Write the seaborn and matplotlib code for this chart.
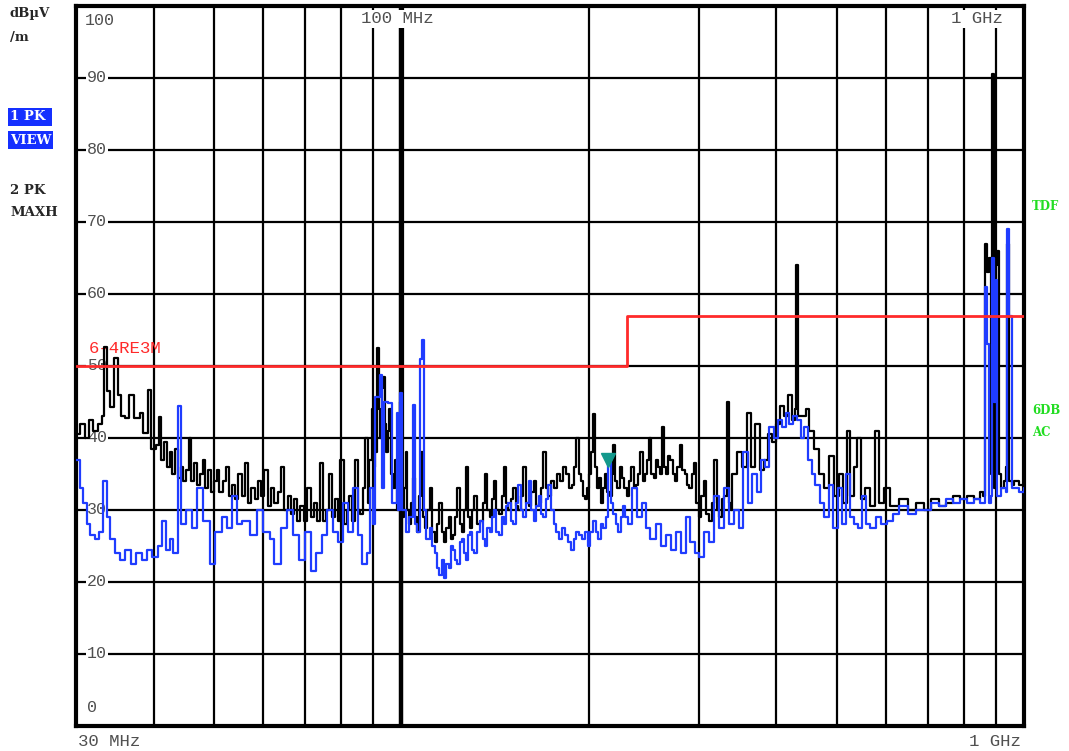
import matplotlib
matplotlib.use("Agg")
import matplotlib.pyplot as plt
import matplotlib.transforms as mtransforms
import pandas as pd
import seaborn as sns

# ---------------- data: (frequency MHz, level dBuV/m) ----------------
pk_maxh_low = [
    (30.0, 40.5), (30.5, 42.0), (31.0, 40.0), (31.5, 42.5), (32.0, 41.0), (32.5, 42.0), (33.0, 43.0),
    (33.3, 52.6), (33.7, 46.5), (34.0, 44.3), (34.5, 51.1), (35.0, 46.0), (35.4, 43.0), (36.0, 42.8),
    (36.5, 46.0), (37.2, 42.8), (38.0, 43.5), (38.5, 40.7), (39.2, 46.7), (39.6, 38.5),
    (40.3, 39), (40.8, 42.9), (41.1, 37), (41.5, 39.5), (42.0, 36), (42.4, 38), (42.8, 35), (43.3, 38.5),
    (43.7, 34.5), (44.2, 36), (44.6, 34), (45.0, 35.5), (45.5, 40), (45.9, 34), (46.4, 36.5), (46.9, 33.5),
    (47.4, 35), (47.9, 37), (48.4, 33), (48.9, 35.5), (49.4, 32.5), (50.0, 34), (50.5, 35.5), (51.0, 32.5),
    (51.6, 34), (52.2, 36), (52.8, 32), (53.4, 33.5), (54.0, 31.5), (54.7, 35), (55.4, 32), (56.0, 36.5),
    (56.7, 31), (57.4, 33), (58.1, 31.5), (58.8, 34), (59.5, 32), (60.2, 35.5), (61.0, 30.5), (61.8, 33),
    (62.5, 31), (63.3, 32.5), (64.0, 36), (64.8, 30), (65.6, 32), (66.4, 29.5), (67.2, 31.5), (68.0, 28.5),
    (68.8, 30.5), (69.7, 28.5), (70.6, 33), (71.5, 29), (72.3, 31), (73.2, 28.5), (74.0, 36.5), (74.8, 28.5),
    (75.6, 30), (76.5, 35), (77.4, 29), (78.2, 31.5), (79.0, 28.5), (79.8, 37), (80.7, 28), (81.6, 30),
    (82.5, 32), (83.3, 28.5), (84.2, 37), (85.0, 30), (85.9, 29.5), (86.7, 33), (87.5, 40), (88.2, 31),
    (88.8, 37), (89.5, 44), (90.2, 36), (90.8, 38), (91.5, 52.5), (92.0, 44), (92.5, 40), (93.0, 47),
    (93.5, 48.5), (94.0, 42), (94.5, 38), (95.0, 41), (95.5, 44), (96.2, 35), (97.0, 33), (97.8, 37),
    (98.5, 30), (99.0, 38), (99.5, 45), (100.0, 101),
]
pk_maxh_mid = [
    (100.5, 29), (101.0, 33), (101.5, 38), (102.2, 30), (103, 28), (103.7, 31), (104.5, 34.5), (105.2, 29),
    (106, 27), (106.7, 32), (107.5, 38), (108.2, 29), (109, 27.5), (110, 30), (111, 33), (112, 27),
    (113, 25.5), (114, 28), (115, 31), (116, 27), (117, 25.5), (118, 27.5), (119, 29), (120, 26),
    (121, 26.5), (122, 29), (123, 33), (124, 28), (125, 27), (126, 30), (127, 36), (128, 29),
    (129, 27.5), (130, 30), (131, 32), (132, 28), (133.5, 28.5), (135, 31), (136, 35), (137, 30),
    (138.5, 29), (140, 31.5), (141, 34), (142, 30), (143.5, 29.5), (145, 32), (146, 36), (147, 31),
    (148.5, 30), (150, 31.5), (151, 33), (152.5, 30.5), (154, 30), (155.5, 32), (157, 36), (158.5, 31),
    (160, 30.5), (161.5, 32.5), (163, 34), (164.5, 30.5), (166, 31), (167.5, 33), (169, 38), (170.5, 33),
    (172, 32), (174, 34), (176, 33), (178, 35), (180, 34), (182, 36), (184, 35), (186, 33),
    (188, 33.5), (189.5, 36), (191, 40), (192.5, 35), (194, 34), (195.5, 32), (197, 31.5), (198.5, 33),
    (200, 35), (201.5, 38), (203, 43.3), (204.5, 36), (206, 33), (207.5, 34.5), (209, 31), (210.5, 33),
    (212, 35), (214, 32.5), (216, 32), (217.5, 35), (219, 39), (220.5, 34), (222, 33), (224, 36),
    (226, 34.5), (228, 33), (230, 32), (232, 34), (234, 36), (236, 33), (238, 33.5), (240, 35),
    (242, 38), (244, 34), (246, 35), (248, 37), (250, 40), (252, 35), (254, 34.5), (256, 37),
    (258, 36), (260, 35), (262, 41.5), (264, 36), (266, 35), (268, 37.5), (270, 37), (272.5, 35),
    (275, 34), (277.5, 36), (280, 39), (282.5, 35.5), (285, 35), (287.5, 33.5), (290, 33), (292.5, 35),
    (295, 36.5), (297.5, 31), (300, 29), (303, 32), (306, 34), (309, 29.5), (312, 28.5), (315, 31),
    (318, 37), (321, 30), (324, 29), (327, 31.5), (330, 32), (333, 45), (336, 31), (338, 30),
]
pk_maxh_high = [
    (340, 35), (346, 38), (352, 36), (359, 43.5), (364, 36), (370, 42), (376, 35.5), (382, 37),
    (388, 40.5), (394, 39.5), (400, 42), (406, 44.5), (412, 43), (418, 46), (424, 42.5), (428, 44),
    (431, 64), (434, 43), (440, 43), (446, 44), (452, 41), (460, 38.5), (469, 35), (478, 33),
    (487, 37.5), (496, 32), (505, 35), (512, 31), (520, 41), (526, 32), (533, 36), (540, 40),
    (548, 31.5), (556, 33), (565, 30.5), (577, 41), (585, 31), (595, 33), (610, 30.5), (630, 31.5),
    (650, 30), (670, 31), (690, 30), (710, 31.5), (730, 30.5), (750, 31), (770, 32), (790, 31.5),
    (810, 32), (830, 31.5), (850, 32.5), (860, 32), (866, 67), (872, 63), (878, 65), (884, 35),
    (889, 90.5), (894, 33), (900, 64), (906, 66), (913, 35), (920, 33), (928, 34), (934, 36),
    (940, 67), (946, 34), (955, 33.5), (965, 34), (980, 33.5), (1000, 33.5),
]

pk_view_low = [
    (30.0, 37.0), (30.4, 33.0), (30.8, 31.0), (31.2, 28.0), (31.6, 26.5), (32.2, 26.0), (32.7, 27.0),
    (33.1, 34.0), (33.6, 29.0), (34.0, 26.0), (34.6, 24.0), (35.3, 23.0), (36.0, 24.5), (36.8, 22.5),
    (37.5, 24.0), (38.3, 23.0), (39.0, 24.5), (39.8, 23.5), (40.6, 25.0), (41.3, 28.5), (41.9, 24.5),
    (42.5, 26.0), (43.0, 24.0), (43.7, 44.5), (44.2, 28.0), (45.0, 30.0), (46.0, 27.5), (47.0, 33.0),
    (48.0, 28.5), (49.2, 22.5), (50.2, 27.0), (51.5, 29.0), (52.5, 27.5), (53.5, 32.0), (54.5, 28.0),
    (55.5, 28.5), (57.0, 26.5), (58.5, 30.0), (60.0, 27.0), (61.5, 26.0), (62.5, 22.5), (64.0, 27.5),
    (65.5, 30.0), (67.0, 26.5), (68.5, 23.0), (70.0, 27.0), (71.5, 21.5), (73.0, 24.0), (74.5, 26.5),
    (76.0, 30.0), (77.5, 27.0), (79.0, 25.5), (80.5, 31.0), (82.0, 27.0), (83.5, 33.0), (85.0, 26.5),
    (86.5, 22.5), (88.0, 24.0), (89.0, 33.0), (90.0, 28.0), (90.6, 45.7), (92.3, 48.7), (93.0, 33.0),
    (93.8, 45.0), (95.1, 44.9), (96.5, 31.0), (98.2, 43.5), (98.8, 30.0), (99.3, 46.2), (100.2, 30.0),
    (101.5, 27.0), (103, 29.0), (104.2, 44.6), (105, 28.0), (106, 27.0), (107, 51.0), (107.8, 53.6),
    (108.5, 30.0), (109.5, 26.0),
]
pk_view_mid = [
    (111, 27.5), (112, 25), (113, 24), (114, 22), (115, 21), (116, 23), (117, 20.5), (118, 22.5),
    (119, 22), (120, 25), (121, 24.5), (122, 23), (123, 22.5), (124, 25.5), (125, 26), (126, 24),
    (127, 23), (128, 26.5), (129, 27), (130, 24.5), (131, 24), (132, 27), (133.5, 28.5), (135, 26),
    (136, 25), (137, 27.5), (138.5, 27), (140, 29), (141, 30), (142, 27), (143.5, 26.5), (145, 29),
    (146, 28), (147, 30.5), (148.5, 31), (150, 28.5), (151, 28), (152.5, 31), (154, 33.5), (155.5, 30),
    (157, 29), (158.5, 31), (160, 34), (161.5, 30), (163, 28.5), (164.5, 30.5), (166, 32), (167.5, 29.5),
    (169, 29), (170.5, 31.5), (172, 33.5), (174, 30), (175.5, 28), (177, 27), (179, 26), (181, 27.5),
    (183, 26.5), (185, 25.5), (187, 24.5), (189, 26), (191, 27), (193, 26.5), (195, 26), (197, 27),
    (199, 25), (201, 27), (203, 28.5), (205, 27), (207, 26), (209, 28), (211, 27.5), (213, 29),
    (215, 36.5), (217, 31), (219, 29.5), (221, 28), (223, 27), (225, 29), (227, 30.5), (229, 29),
    (231, 28), (235, 33), (239, 29), (243, 31), (247, 27.5), (251, 26), (256, 28), (261, 25),
    (266, 26.5), (271, 24.5), (276, 27), (281, 24), (286, 29), (291, 25.5), (296, 24), (300, 23.5),
    (306, 27), (312, 25.5), (318, 32), (324, 27.5), (330, 33), (336, 28),
]
pk_view_high = [
    (342, 30), (348, 27.5), (354, 38), (360, 31), (366, 35), (372, 32.5), (378, 37), (384, 36),
    (390, 41.5), (396, 40), (402, 42.5), (408, 41.5), (414, 43.5), (420, 42), (426, 43), (432, 42.5),
    (438, 40), (444, 41.5), (450, 37), (456, 35), (462, 33.5), (470, 31), (478, 29), (486, 33.5),
    (494, 27.5), (502, 33), (510, 28), (518, 35), (526, 29), (534, 28), (542, 27.5), (550, 32),
    (558, 28), (566, 27.5), (578, 29), (590, 28), (602, 28.5), (615, 29.5), (630, 30.5), (650, 29.5),
    (670, 30), (690, 30), (710, 31), (730, 30.5), (750, 31.5), (770, 31), (790, 31.5), (810, 31),
    (830, 31.5), (850, 31), (862, 31), (866, 61), (872, 53), (878, 31), (884, 32), (889, 65),
    (894, 45), (900, 62), (906, 32), (913, 32), (920, 33), (928, 33), (934, 32.5), (940, 69),
    (946, 57), (955, 33), (965, 33), (980, 32.5), (1000, 33),
]

limit_freq = [30, 230, 230, 1000]
limit_level = [50, 50, 57, 57]
limit_name = "6-4RE3M"

marker_freq = [215]
marker_level = [37]

y_tick_values = [10, 20, 30, 40, 50, 60, 70, 80, 90]
x_grid_freqs = [40, 50, 60, 70, 80, 90, 100, 200, 300, 400, 500, 600, 700, 800, 900]


def to_frame(*segments):
    pts = [p for seg in segments for p in seg]
    return pd.DataFrame({"freq": [p[0] for p in pts], "level": [p[1] for p in pts]})


# ---------------- figure ----------------
sns.set_style("white")
W, H = 1069, 751
fig = plt.figure(figsize=(W / 100, H / 100), dpi=100)
ax = fig.add_axes([76 / W, 1 - 726 / H, (1024 - 76) / W, (726 - 6) / H])

BLACK = "#000000"
BLUE = "#1f3cff"
RED = "#ff2a2a"

df_k = to_frame(pk_maxh_low, pk_maxh_mid, pk_maxh_high)
df_b = to_frame(pk_view_low, pk_view_mid, pk_view_high)
df_l = pd.DataFrame({"freq": limit_freq, "level": limit_level})

sns.lineplot(data=df_k, x="freq", y="level", ax=ax, color=BLACK, lw=1.6,
             estimator=None, sort=False, drawstyle="steps-post", zorder=4)
sns.lineplot(data=df_b, x="freq", y="level", ax=ax, color=BLUE, lw=1.6,
             estimator=None, sort=False, drawstyle="steps-post", zorder=5)
sns.lineplot(data=df_l, x="freq", y="level", ax=ax, color=RED, lw=2.0,
             estimator=None, sort=False, zorder=6)
ax.plot(marker_freq, marker_level, marker="v", color="#13998c", ms=10, ls="none", zorder=7)

ax.set_xscale("log")
ax.set_xlim(30, 1000)
ax.set_ylim(0, 100)
ax.set_xticks(x_grid_freqs)
ax.set_yticks(y_tick_values)
ax.minorticks_off()
ax.tick_params(length=0, labelbottom=False, labelleft=False)
ax.grid(True, color="black", lw=1.6)
ax.set_axisbelow(True)
# the 100 MHz decade line is drawn heavier on the analyser screen
for gl, f in zip(ax.get_xgridlines(), x_grid_freqs):
    if f == 100:
        gl.set_linewidth(3.2)
ax.set_xlabel("")
ax.set_ylabel("")
for s in ax.spines.values():
    s.set_visible(True)
    s.set_color("black")
    s.set_linewidth(3)

mono = "Liberation Mono"
tgrey = "#505050"
blend = mtransforms.blended_transform_factory(ax.transAxes, ax.transData)
for v in y_tick_values:
    ax.text(0.0116, v, str(v), transform=blend, ha="left", va="center",
            fontsize=12, family=mono, color=tgrey, zorder=2,
            bbox=dict(facecolor="white", edgecolor="none", pad=0.5))
ax.text(0.0095, 98.0, "100", transform=blend, ha="left", va="center",
        fontsize=12, family=mono, color=tgrey, zorder=2)
ax.text(0.0116, 2.5, "0", transform=blend, ha="left", va="center",
        fontsize=12, family=mono, color=tgrey, zorder=2)


def ftext(x, y, s, **kw):
    fig.text(x / W, 1 - y / H, s, **kw)


# frequency labels
ax.text(86, 98.2, "100 MHz", ha="left", va="center", fontsize=12.5, family=mono,
        color=tgrey, zorder=8, bbox=dict(facecolor="white", edgecolor="none", pad=0.8))
ax.text(764, 98.2, "1 GHz", ha="left", va="center", fontsize=12.5, family=mono,
        color=tgrey, zorder=8, bbox=dict(facecolor="white", edgecolor="none", pad=0.8))
ftext(78, 742, "30 MHz", ha="left", va="center", fontsize=12.5, family=mono, color=tgrey)
ftext(1021, 742, "1 GHz", ha="right", va="center", fontsize=12.5, family=mono, color=tgrey)

# limit line label
ax.text(31.5, 52.4, limit_name, ha="left", va="center", fontsize=12.5, family=mono,
        color=RED, zorder=3)

# left-side annotations
serif = "DejaVu Serif"
ftext(10, 14, "dBµV", ha="left", va="center", fontsize=9.5, family=serif, weight="bold")
ftext(10, 38, "/m", ha="left", va="center", fontsize=9.5, family=serif, weight="bold")
ftext(10, 117, "1 PK ", ha="left", va="center", fontsize=9.5, family=serif, weight="bold",
      color="white", bbox=dict(facecolor="#1530ff", edgecolor="none", pad=1.5))
ftext(10, 140, "VIEW", ha="left", va="center", fontsize=9.5, family=serif, weight="bold",
      color="white", bbox=dict(facecolor="#1530ff", edgecolor="none", pad=1.5))
ftext(10, 190, "2 PK", ha="left", va="center", fontsize=9.5, family=serif, weight="bold")
ftext(10, 213, "MAXH", ha="left", va="center", fontsize=9.5, family=serif, weight="bold")

GREEN = "#22dd22"
ftext(1032, 206, "TDF", ha="left", va="center", fontsize=8.5, family=serif, weight="bold", color=GREEN)
ftext(1032, 410, "6DB", ha="left", va="center", fontsize=8.5, family=serif, weight="bold", color=GREEN)
ftext(1032, 433, "AC", ha="left", va="center", fontsize=8.5, family=serif, weight="bold", color=GREEN)

fig.savefig("out.png", dpi=100)
